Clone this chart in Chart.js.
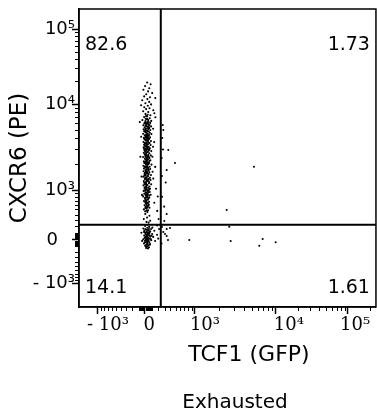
<!DOCTYPE html>
<html>
<head>
    <meta charset="UTF-8">
    <title>CXCR6 vs TCF1 - Exhausted</title>
    <script src="https://cdn.jsdelivr.net/npm/chart.js@4.4.1/dist/chart.umd.min.js"></script>
    <style>
        body { margin: 0; background: #fff; }
    </style>
</head>
<body>
    <canvas id="plot" width="377" height="412"></canvas>

    <script>
        // display channel units (biexponential display, 0..297 on x, 0..298 on y)
        const xTickPositions = [19, 66, 116, 197, 269];   // -10^3, 0, 10^3, 10^4, 10^5
        const xTickLabels = ['- 10³', '0  ', '10³', ' 10⁴', '10⁵ '];
        const yTickPositions = [24, 67, 117, 203, 278];
        const yTickLabels = ['- 10³', '0   ', '10³', '10⁴', '10⁵'];

        const xGate = 81.8;
        const yGate = 82.3;
        const quadrantLabels = ['82.6', '1.73', '14.1', '1.61']; // UL, UR, LL, LR

        const xTitle = 'TCF1 (GFP)';
        const yTitle = 'CXCR6 (PE)';
        const sampleName = 'Exhausted';

        // events, [x, y] in display units
        const upperLeftEvents = [
            [68.2,224.5],[71.6,222.8],[66.1,220.9],[70.3,218.7],[64.4,217.2],[69.1,215.6],[73.2,213.9],[67.3,212.8],
            [65.2,210.6],[71.0,209.7],[68.4,207.9],[63.3,206.8],[70.2,205.1],[66.4,203.7],[72.1,202.6],[68.8,201.2],
            [65.3,199.8],[70.5,198.7],[67.1,197.9],[74.3,196.8],[64.2,195.7],[69.3,194.9],[66.5,193.1],[71.4,191.8],
            [68.0,190.6],[65.1,189.9],[70.7,188.8],[67.6,187.7],[63.4,186.9],[72.2,186.1],[69.5,185.3],[66.2,184.6],
            [75.4,193.8],[62.1,201.8],[76.3,208.9],
            [68.3,184.8],[71.2,184.1],[65.4,183.6],[69.1,183.0],[67.2,182.5],[70.4,182.1],[64.3,181.7],[66.4,181.0],
            [72.1,180.6],[68.1,180.2],[65.6,179.5],[70.2,179.1],[66.8,178.4],[69.4,178.0],[64.6,177.6],[71.3,177.0],
            [67.5,176.4],[65.2,175.8],[69.7,175.5],[66.3,174.9],[70.8,174.3],[68.2,173.8],[64.2,173.2],[72.4,172.9],
            [67.1,172.3],[65.8,171.7],[69.9,171.2],[66.6,170.8],[68.7,170.1],[71.1,169.6],[64.9,169.1],[67.7,168.6],
            [70.1,168.0],[65.5,167.5],[69.2,167.1],[66.9,166.5],[72.0,166.0],[68.5,165.6],[64.5,165.0],[67.3,164.4],
            [70.6,163.9],[66.0,163.4],[69.0,162.9],[65.1,162.3],[71.6,161.9],[67.9,161.2],[66.2,160.8],[69.6,160.2],
            [64.7,159.7],[68.4,159.1],[70.9,158.6],[66.7,158.1],[67.6,157.4],[65.3,156.9],[69.8,156.5],[72.3,155.9],
            [66.1,155.4],[68.0,154.8],[64.8,154.3],[70.3,153.8],[67.0,153.2],[65.7,152.7],[69.3,152.2],[71.8,151.6],
            [66.4,151.1],[68.6,150.5],[64.1,150.0],[67.8,149.4],[70.5,148.9],[65.9,148.4],[69.1,147.8],[66.6,147.2],
            [71.4,146.8],[68.2,146.2],[64.9,145.6],[67.4,145.1],[70.0,144.6],[65.4,144.0],[69.5,143.5],[66.8,142.9],
            [72.5,142.4],[68.3,141.9],[64.4,141.3],[67.1,140.8],[70.7,140.2],[66.3,139.7],[69.0,139.1],[65.0,138.6],
            [71.2,138.0],[67.9,137.5],[66.5,136.9],[69.7,136.4],[64.6,135.8],[68.1,135.3],[70.4,134.7],[66.0,134.2],
            [67.5,133.6],[65.6,133.1],[69.4,132.5],[72.0,132.0],[66.7,131.5],[68.8,130.9],[64.3,130.3],[67.2,129.8],
            [70.9,129.3],[65.8,128.7],[69.2,128.2],[66.2,127.6],[71.5,127.1],[68.4,126.5],[64.8,126.0],[67.6,125.4],
            [70.2,124.9],[65.2,124.3],[69.9,123.8],[66.9,123.2],[72.2,122.7],[68.0,122.2],[64.5,121.6],[67.3,121.1],
            [70.6,120.5],[66.1,120.0],[69.3,119.4],[65.5,118.9],[71.0,118.3],[67.8,117.8],[66.4,117.2],[69.6,116.7],
            [64.7,116.1],[68.5,115.6],[70.8,115.0],[66.6,114.4],[67.7,113.9],[65.3,113.3],[69.0,112.8],[71.7,112.2],
            [66.8,111.7],[68.2,111.1],[64.2,110.6],[67.0,110.0],[70.3,109.5],[65.9,108.9],[69.4,108.4],[66.5,107.8],
            [68.9,107.2],[67.4,106.5],[65.0,105.9],[70.1,105.2],[66.3,104.6],[68.6,103.9],[67.1,103.2],[69.8,102.4],
            [65.6,101.7],[68.0,100.9],[66.7,100.1],[70.5,99.3],[67.5,98.4],[64.9,97.6],[69.1,96.7],[66.2,95.8],[68.4,94.9],
            [67.9,183.4],[68.9,178.7],[67.0,174.6],[68.0,169.4],[67.4,163.1],[68.8,157.8],[67.2,151.9],[68.1,144.3],
            [67.6,137.2],[68.7,130.6],[67.0,123.5],[68.3,116.4],[67.5,109.2],[68.6,104.2],[66.9,183.9],[69.6,181.3],
            [66.1,176.7],[68.9,173.0],[66.0,167.9],[69.5,164.7],[67.8,160.5],[66.8,153.6],[69.9,149.9],[67.2,143.2],
            [68.6,139.9],[66.4,132.8],[69.7,127.9],[67.4,119.7],[68.1,113.1],[66.6,106.9],[70.0,172.0],[65.0,158.8],
            [70.4,146.0],[65.3,131.2],[70.2,117.6],[69.2,186.9],[66.7,188.2],[68.6,192.3],[67.3,159.9],[67.9,127.0],
            [68.4,99.5],[67.7,148.1],[68.5,166.3],[67.1,135.9],
            [66.5,185.9],[68.8,184.3],[67.3,180.9],[69.9,179.8],[66.6,177.9],[68.6,176.1],[67.9,171.5],[66.5,169.8],
            [69.3,168.9],[67.6,166.9],[68.3,162.6],[66.3,161.5],[69.4,159.5],[67.1,156.2],[68.9,155.1],[66.7,150.3],
            [69.1,151.3],[67.7,146.6],[66.2,145.0],[68.9,142.6],[67.3,139.0],[69.3,137.6],[66.9,134.6],[68.5,133.9],
            [67.1,128.9],[69.0,126.1],[66.6,124.8],[68.4,121.9],[67.3,118.6],[69.2,114.7],[66.9,112.4],[68.7,109.8],
            [67.3,105.4],[69.4,101.1],[66.4,98.9],[67.8,96.5],[68.3,187.9],[67.0,190.9],[69.8,143.4],[65.8,140.4],
            [70.1,157.2],[65.7,163.9],[69.6,133.0],[65.9,122.8],[70.3,111.5],[66.1,116.3],[67.6,102.6],[68.2,170.9],
            [67.4,171.1],[68.0,148.9],
            [66.3,93.1],[70.4,91.2],[68.1,89.4],[64.8,87.9],[71.2,86.3],[67.5,85.1],[69.6,84.4],[74.1,178.2],
            [75.2,164.9],[73.4,150.3],[76.2,140.1],[74.3,128.4],[77.1,118.2],[75.3,104.3],[78.2,96.1],[74.0,160.2],
            [73.6,135.2],[76.4,189.7],[62.2,170.3],[61.4,150.2],[62.5,130.4],[63.0,112.1],[60.8,184.9],[79.6,88.0],
            [78.8,110.5]
        ];
        const upperRightEvents = [
            [83.7,182.0],[84.3,177.0],[89.3,157.0],[96.0,144.0],[87.7,137.0],[86.7,124.5],[87.7,93.0],[83.3,169.0],
            [82.7,149.0],[175.0,140.3],[147.7,97.0],[83.1,110.2],[85.2,100.4],[85.3,86.0],[84.0,157.5],[82.9,131.0]
        ];
        const lowerLeftEvents = [
            [66.1,81.0],[70.2,80.1],[68.3,79.2],[64.4,78.4],[72.1,78.0],[67.2,77.3],[69.4,76.6],[65.3,76.1],
            [71.2,75.4],[68.1,74.8],[66.4,74.1],[70.3,73.6],[73.2,73.0],[67.0,72.5],[69.1,71.9],[65.2,71.5],
            [68.4,70.8],[71.3,70.4],[66.2,69.9],[69.5,69.3],[67.3,68.8],[70.1,68.2],[64.3,67.7],[68.2,67.3],
            [72.3,66.8],[66.0,66.3],[69.2,65.8],[67.4,65.2],[70.3,64.6],[68.1,64.1],[65.0,63.6],[71.1,63.0],
            [67.2,62.5],[69.3,61.8],[66.1,61.2],[68.4,60.5],[70.0,59.8],[67.1,59.1],[69.0,58.6],[74.2,70.1],
            [75.3,76.2],[76.1,66.0],[62.4,74.3],[63.2,66.1],[73.4,79.4],[78.1,72.2],[79.2,68.4],[78.3,81.6],
            [80.1,78.0],[67.8,71.0],[68.9,68.0],[66.7,73.0],[69.8,74.5],[67.5,66.9],[68.6,62.9],[66.3,78.0],
            [70.6,71.6],[65.6,69.0],[71.8,67.9],[69.9,77.9],
            [67.6,75.5],[68.8,72.9],[66.9,70.4],[69.6,66.6],[67.9,64.9],[68.7,77.0],[66.0,64.8],[70.7,75.6],
            [67.3,61.0],[69.2,73.6],[68.0,69.7],[66.8,67.4],[70.8,62.3],[65.1,74.9],[72.6,71.3]
        ];
        const lowerRightEvents = [
            [150.3,80.3],[110.3,67.0],[151.7,66.0],[183.7,68.0],[180.3,61.3],[196.7,64.7],[91.0,79.0],[87.7,71.0],
            [84.3,75.0],[87.7,78.0],[89.0,67.0],[83.0,80.0],[86.0,73.0],[82.5,63.5]
        ];

        const X_MAX = 297;
        const Y_MAX = 298;

        const toPoints = (events) => events.map(e => ({ x: e[0], y: e[1] }));

        // minor tick values on the biexponential display: dense near zero, log within decades
        function minorTickPositions(major, max) {
            const [pNeg, p0, p3, p4, p5] = major;
            const c = 500;
            const s = Math.asinh(1000 / c);
            const out = [];
            const lin = [10, 20, 30, 40, 50, 60, 70, 80, 90, 100, 200, 300, 400, 500, 600, 700, 800, 900];
            lin.forEach(v => {
                const f = Math.asinh(v / c) / s;
                out.push(p0 + (p3 - p0) * f);
                out.push(p0 - (p0 - pNeg) * f);
            });
            const decades = [[p3, p4], [p4, p5], [p5, p5 + (p5 - p4)]];
            decades.forEach(([a, b]) => {
                for (let m = 2; m <= 9; m++) out.push(a + Math.log10(m) * (b - a));
            });
            return out.filter(p => p > 0 && p < max);
        }

        const flowPlugin = {
            id: 'flowDecor',
            afterDraw(chart) {
                const { ctx, chartArea: a, scales } = chart;
                ctx.save();
                ctx.strokeStyle = '#000';
                ctx.lineWidth = 1;
                minorTickPositions(xTickPositions, X_MAX).forEach(v => {
                    const px = Math.round(scales.x.getPixelForValue(v)) + 0.5;
                    ctx.beginPath();
                    ctx.moveTo(px, a.bottom);
                    ctx.lineTo(px, a.bottom + 4);
                    ctx.stroke();
                });
                minorTickPositions(yTickPositions, Y_MAX).forEach(v => {
                    const py = Math.round(scales.y.getPixelForValue(v)) + 0.5;
                    ctx.beginPath();
                    ctx.moveTo(a.left - 4, py);
                    ctx.lineTo(a.left, py);
                    ctx.stroke();
                });
                // frame
                ctx.lineWidth = 1.5;
                ctx.strokeRect(a.left, a.top, a.right - a.left, a.bottom - a.top);

                // quadrant frequencies
                ctx.fillStyle = '#000';
                ctx.font = '19px "DejaVu Sans"';
                ctx.textBaseline = 'alphabetic';
                ctx.textAlign = 'left';
                ctx.fillText(quadrantLabels[0], a.left + 6, a.top + 41);
                ctx.fillText(quadrantLabels[2], a.left + 6, a.bottom - 14);
                ctx.textAlign = 'right';
                ctx.fillText(quadrantLabels[1], a.right - 6, a.top + 41);
                ctx.fillText(quadrantLabels[3], a.right - 6, a.bottom - 14);

                // axis title and sample name
                ctx.textAlign = 'center';
                ctx.font = '22px "DejaVu Sans"';
                ctx.fillText(xTitle, a.left + 170, a.bottom + 54);
                ctx.font = '20px "DejaVu Sans"';
                ctx.fillText(sampleName, a.left + 156, a.bottom + 101);
                ctx.restore();
            }
        };

        const dotStyle = {
            pointRadius: 1.05,
            pointHoverRadius: 1.05,
            pointBackgroundColor: '#000',
            pointBorderWidth: 0,
            showLine: false
        };
        const gateStyle = {
            showLine: true,
            borderColor: '#000',
            borderWidth: 2,
            pointRadius: 0,
            fill: false
        };

        const ctx = document.getElementById('plot').getContext('2d');
        new Chart(ctx, {
            type: 'scatter',
            data: {
                datasets: [
                    { label: 'x gate', data: [{ x: xGate, y: 0 }, { x: xGate, y: Y_MAX }], ...gateStyle },
                    { label: 'y gate', data: [{ x: 0, y: yGate }, { x: X_MAX, y: yGate }], ...gateStyle },
                    { label: 'Q1', data: toPoints(upperLeftEvents), ...dotStyle },
                    { label: 'Q2', data: toPoints(upperRightEvents), ...dotStyle },
                    { label: 'Q3', data: toPoints(lowerLeftEvents), ...dotStyle },
                    { label: 'Q4', data: toPoints(lowerRightEvents), ...dotStyle }
                ]
            },
            options: {
                responsive: false,
                devicePixelRatio: 1,
                animation: false,
                events: [],
                layout: { padding: { top: 9, right: 1, left: 0, bottom: 0 } },
                plugins: {
                    legend: { display: false },
                    tooltip: { enabled: false },
                    title: { display: false }
                },
                scales: {
                    x: {
                        type: 'linear',
                        min: 0,
                        max: X_MAX,
                        afterBuildTicks: (axis) => { axis.ticks = xTickPositions.map(v => ({ value: v })); },
                        afterFit: (axis) => { axis.height = 105; },
                        grid: { drawOnChartArea: false, drawTicks: true, tickLength: 7, tickColor: '#000', tickWidth: 1.5 },
                        border: { display: true, color: '#000', width: 1.5 },
                        ticks: {
                            autoSkip: false,
                            maxRotation: 0,
                            padding: 1,
                            labelOffset: 10,
                            color: '#000',
                            font: { family: 'DejaVu Serif', size: 18 },
                            callback: (value, index) => xTickLabels[index]
                        },
                        title: { display: false }
                    },
                    y: {
                        type: 'linear',
                        min: 0,
                        max: Y_MAX,
                        afterBuildTicks: (axis) => { axis.ticks = yTickPositions.map(v => ({ value: v })); },
                        afterFit: (axis) => { axis.width = 79; },
                        grid: { drawOnChartArea: false, drawTicks: true, tickLength: 7, tickColor: '#000', tickWidth: 1.5 },
                        border: { display: true, color: '#000', width: 1.5 },
                        ticks: {
                            autoSkip: false,
                            padding: -3,
                            color: '#000',
                            font: { family: 'DejaVu Sans', size: 18 },
                            callback: (value, index) => yTickLabels[index]
                        },
                        title: {
                            display: true,
                            text: yTitle,
                            color: '#000',
                            font: { family: 'DejaVu Sans', size: 23 },
                            padding: { top: 6, bottom: 0 }
                        }
                    }
                }
            },
            plugins: [flowPlugin]
        });
    </script>
</body>
</html>
